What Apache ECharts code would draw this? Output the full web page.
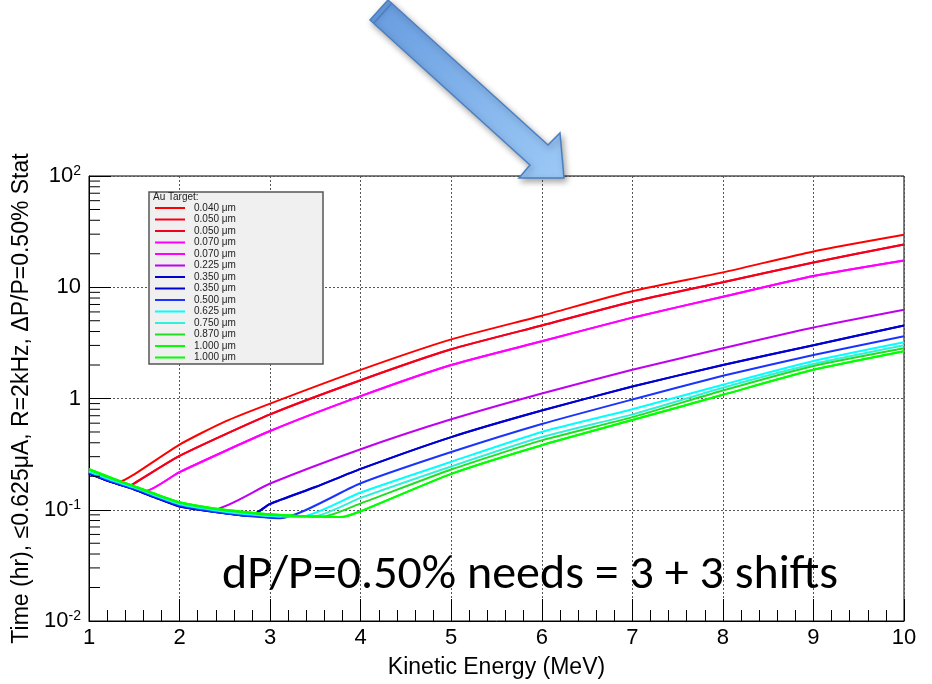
<!DOCTYPE html>
<html>
<head>
<meta charset="utf-8">
<script src="https://cdn.jsdelivr.net/npm/echarts@6/dist/echarts.min.js"></script>
<style>
  html, body { margin: 0; padding: 0; background: #fff; }
  #chart { width: 932px; height: 684px; }
</style>
</head>
<body>
<div id="chart"></div>
<script>
// Time needed vs kinetic energy, one curve per Au target thickness
const labels = [
  '0.040 μm', '0.050 μm', '0.050 μm', '0.070 μm', '0.070 μm', '0.225 μm', '0.350 μm',
  '0.350 μm', '0.500 μm', '0.625 μm', '0.750 μm', '0.870 μm', '1.000 μm', '1.000 μm'
];
const lineColors = [
  '#ff0000', '#f4001c', '#f4001c', '#ff00ff', '#ff00ff', '#c000f0', '#0000d0',
  '#0000d0', '#1a34ff', '#00ffff', '#30f0d8', '#22dd22', '#00ff00', '#00ff00'
];

// [E (MeV), time (hr)]
const t040 = [[1, 0.215], [1.15, 0.19], [1.32, 0.176], [1.5, 0.208], [2, 0.385], [2.5, 0.62], [3, 0.9], [4, 1.81], [5, 3.4], [6, 5.55], [7, 9.25], [8, 13.6], [9, 21], [10, 29.6]];
const t050 = [[1, 0.215], [1.2, 0.183], [1.43, 0.163], [1.5, 0.173], [2, 0.305], [3, 0.72], [4, 1.46], [5, 2.77], [6, 4.53], [7, 7.4], [8, 11.1], [9, 16.7], [10, 24.2]];
const t070 = [[1, 0.215], [1.25, 0.18], [1.5, 0.157], [1.62, 0.147], [2, 0.218], [3, 0.51], [4, 1.05], [5, 2.0], [6, 3.27], [7, 5.33], [8, 8.2], [9, 12.6], [10, 17.4]];
const t225 = [[1, 0.213], [1.25, 0.178], [1.5, 0.153], [1.75, 0.128], [2, 0.108], [2.37, 0.1], [3, 0.172], [4, 0.35], [5, 0.65], [6, 1.11], [7, 1.81], [8, 2.83], [9, 4.35], [10, 6.28]];
const t350 = [[1, 0.212], [1.25, 0.177], [1.5, 0.152], [1.75, 0.127], [2, 0.107], [2.25, 0.099], [2.5, 0.093], [2.78, 0.088], [3, 0.113], [3.5, 0.16], [4, 0.233], [5, 0.45], [6, 0.78], [7, 1.28], [8, 2.0], [9, 3.01], [10, 4.53]];
const t500 = [[1, 0.215], [1.25, 0.179], [1.5, 0.154], [1.75, 0.129], [2, 0.109], [2.25, 0.1], [2.5, 0.093], [2.75, 0.088], [3.11, 0.084], [4, 0.173], [5, 0.33], [6, 0.59], [7, 0.98], [8, 1.6], [9, 2.46], [10, 3.62]];
const t625 = [[1, 0.22], [1.25, 0.184], [1.5, 0.158], [1.75, 0.132], [2, 0.112], [2.25, 0.103], [2.5, 0.096], [2.75, 0.091], [3, 0.088], [3.33, 0.086], [4, 0.143], [5, 0.27], [6, 0.5], [7, 0.8], [8, 1.33], [9, 2.17], [10, 3.2]];
const t750 = [[1, 0.225], [1.25, 0.188], [1.5, 0.16], [1.75, 0.134], [2, 0.114], [2.25, 0.105], [2.5, 0.098], [2.75, 0.093], [3, 0.089], [3.48, 0.087], [4, 0.128], [5, 0.245], [6, 0.45], [7, 0.72], [8, 1.25], [9, 2.04], [10, 3.01]];
const t870 = [[1, 0.23], [1.25, 0.191], [1.5, 0.162], [1.75, 0.136], [2, 0.116], [2.25, 0.106], [2.5, 0.099], [2.75, 0.094], [3, 0.09], [3.3, 0.088], [3.59, 0.087], [4, 0.114], [5, 0.23], [6, 0.42], [7, 0.68], [8, 1.18], [9, 1.96], [10, 2.83]];
const t1000 = [[1, 0.232], [1.25, 0.193], [1.5, 0.163], [1.75, 0.137], [2, 0.117], [2.25, 0.107], [2.5, 0.1], [2.75, 0.095], [3, 0.091], [3.3, 0.088], [3.78, 0.086], [4, 0.097], [5, 0.21], [6, 0.38], [7, 0.64], [8, 1.08], [9, 1.81], [10, 2.66]];

const curves = [t040, t050, t050, t070, t070, t225, t350, t350, t500, t625, t750, t870, t1000, t1000];

// minor ticks of the log axis (2..9 per decade)
const yMinorTicks = [
  0.02, 0.03, 0.04, 0.05, 0.06, 0.07, 0.08, 0.09,
  0.2, 0.3, 0.4, 0.5, 0.6, 0.7, 0.8, 0.9,
  2, 3, 4, 5, 6, 7, 8, 9,
  20, 30, 40, 50, 60, 70, 80, 90
];

const font = 'Liberation Sans, Arial, sans-serif';
const ids = labels.map((l, i) => 'c' + i);

const chart = echarts.init(document.getElementById('chart'));

const lineSeries = curves.map((d, i) => ({
  name: ids[i],
  type: 'line',
  data: d,
  symbol: 'none',
  smooth: 0.2,
  lineStyle: { color: lineColors[i], width: 2 },
  itemStyle: { color: lineColors[i] },
  z: 3
}));

const minorTickSeries = {
  type: 'custom',
  silent: true,
  clip: false,
  data: yMinorTicks.map(v => [1, v]),
  renderItem: (params, api) => {
    const p = api.coord([api.value(0), api.value(1)]);
    return {
      type: 'line',
      shape: { x1: p[0], y1: p[1], x2: p[0] + 11, y2: p[1] },
      style: { stroke: '#000', lineWidth: 1 }
    };
  },
  z: 4
};

chart.setOption({
  animation: false,
  backgroundColor: '#fff',
  grid: { left: 89, right: 28, top: 176, bottom: 57, show: true, borderColor: '#000', borderWidth: 1, backgroundColor: 'transparent' },
  legend: {
    orient: 'vertical',
    left: 149,
    top: 192,
    padding: [11, 0, 0, 6],
    itemWidth: 30,
    itemHeight: 2,
    itemGap: 1.5,
    icon: 'rect',
    selectedMode: false,
    data: ids,
    formatter: name => labels[ids.indexOf(name)],
    textStyle: { fontSize: 10, lineHeight: 10, color: '#222', fontFamily: font, padding: [0, 0, 0, 4] },
    z: 10
  },
  xAxis: {
    type: 'value',
    min: 1,
    max: 10,
    interval: 1,
    name: 'Kinetic Energy (MeV)',
    nameLocation: 'middle',
    nameGap: 35,
    nameTextStyle: { fontSize: 23, color: '#000', fontFamily: font },
    axisLine: { lineStyle: { color: '#000', width: 1 } },
    axisTick: { inside: true, length: 22, lineStyle: { color: '#000' } },
    minorTick: { show: true, splitNumber: 5, length: 11, lineStyle: { color: '#000' } },
    axisLabel: { fontSize: 22, color: '#000', fontFamily: font, margin: 6 },
    splitLine: { show: true, lineStyle: { color: '#555', type: [2, 2], width: 1 } }
  },
  yAxis: {
    type: 'log',
    logBase: 10,
    min: 0.01,
    max: 100,
    name: 'Time (hr), ≤0.625μA, R=2kHz, ΔP/P=0.50% Stat',
    nameLocation: 'middle',
    nameGap: 56,
    nameTextStyle: { fontSize: 23, color: '#000', fontFamily: font },
    axisLine: { show: true, lineStyle: { color: '#000', width: 1 } },
    axisTick: { inside: true, length: 22, lineStyle: { color: '#000' } },
    axisLabel: {
      margin: 8,
      color: '#000',
      fontFamily: font,
      formatter: v => {
        if (v >= 100) return '{b|10}{s|2}';
        if (v >= 10) return '{b|10}';
        if (v >= 1) return '{b|1}';
        if (v >= 0.1) return '{b|10}{s|-1}';
        return '{b|10}{s|-2}';
      },
      rich: {
        b: { fontSize: 22, lineHeight: 24, fontFamily: font, color: '#000' },
        s: { fontSize: 14, lineHeight: 24, verticalAlign: 'top', fontFamily: font, color: '#000' }
      }
    },
    splitLine: { show: true, lineStyle: { color: '#555', type: [2, 2], width: 1 } }
  },
  graphic: [
    {
      type: 'rect',
      shape: { x: 149, y: 192, width: 174, height: 172 },
      style: { fill: '#f0f0f0', stroke: '#555', lineWidth: 1.5 },
      z: 5
    },
    {
      type: 'text',
      x: 153,
      y: 192,
      style: { text: 'Au Target:', fontSize: 10, fontFamily: font, fill: '#222' },
      z: 11
    },
    {
      type: 'text',
      x: 222,
      y: 552,
      style: { text: 'dP/P=0.50% needs = 3 + 3 shifts', fontSize: 48, fontFamily: 'Carlito, Lato, sans-serif', fill: '#000' },
      z: 12
    },
    {
      type: 'polygon',
      shape: { points: [[388, 0], [548, 145], [560, 133], [564, 178], [519, 178], [530, 165], [370, 20]] },
      style: {
        fill: new echarts.graphic.LinearGradient(0, 0, 1, 1, [
          { offset: 0, color: '#669bdf' },
          { offset: 1, color: '#9cc9f6' }
        ]),
        stroke: '#4b7fc2',
        lineWidth: 1.5,
        shadowBlur: 6,
        shadowColor: 'rgba(0,0,0,0.35)',
        shadowOffsetX: 2,
        shadowOffsetY: 3
      },
      z: 12
    },
    {
      type: 'line',
      shape: { x1: 374, y1: 23, x2: 392, y2: 3 },
      style: { stroke: '#4b7fc2', lineWidth: 1.5 },
      z: 13
    }
  ],
  series: [...lineSeries, minorTickSeries]
});
</script>
</body>
</html>
